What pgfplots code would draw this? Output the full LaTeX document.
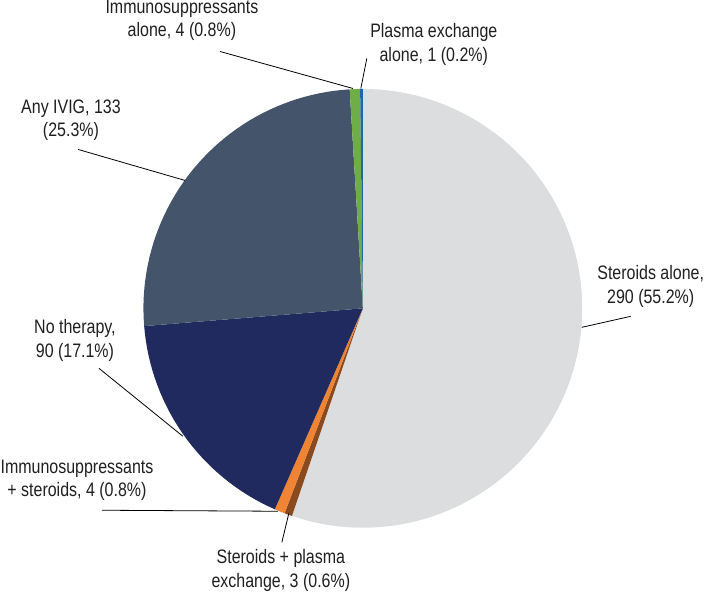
\documentclass[border=0pt]{standalone}
\usepackage{pgfplots}
\pgfplotsset{compat=1.18}
\usepackage{fontspec}
\setmainfont[FakeStretch=0.82]{Liberation Sans}
\definecolor{cSter}{HTML}{DCDDDF}
\definecolor{cSPE}{HTML}{8B4A1E}
\definecolor{cIS}{HTML}{EE8434}
\definecolor{cNo}{HTML}{212A5E}
\definecolor{cIVIG}{HTML}{44546B}
\definecolor{cIA}{HTML}{6FAE46}
\definecolor{cPE}{HTML}{2166A8}
\begin{document}
\begin{tikzpicture}
% counts: Steroids alone, Steroids+PE, Immuno+steroids, No therapy, Any IVIG, Immuno alone, PE alone
\def\vals{290/cSter,3/cSPE,4/cIS,90/cNo,133/cIVIG,4/cIA,1/cPE}
\pgfmathsetmacro{\total}{290+3+4+90+133+4+1}
\begin{axis}[width=704pt,height=591pt,scale only axis,
  xmin=0,xmax=704,ymin=0,ymax=591,y dir=reverse,
  hide axis,clip=false]
\path (axis cs:0,0) rectangle (axis cs:704,591);
\def\cx{363}\def\cy{308}\def\rr{219.5}
\xdef\start{90}
\foreach \v/\cc in \vals {
  \pgfmathsetmacro{\stop}{\start-(\v/\total)*360}
  \pgfmathtruncatemacro{\ns}{max(3,abs(\start-\stop)/2+2)}
  \edef\temp{\noexpand\addplot[fill=\cc,draw=none,domain=\stop:\start,samples=\ns,variable=\noexpand\t]
    ({\cx+\rr*cos(\noexpand\t)},{\cy-\rr*sin(\noexpand\t)}) -- (axis cs:\cx,\cy) -- cycle;}
  \temp
  \xdef\start{\stop}
}
% leader lines
\draw[black,line width=0.8pt] (axis cs:220,51) -- (axis cs:353,88);
\draw[black,line width=0.8pt] (axis cs:367,58) -- (axis cs:361,88);
\draw[black,line width=0.8pt] (axis cs:78,149) -- (axis cs:185,180);
\draw[black,line width=0.8pt] (axis cs:631,316) -- (axis cs:582,327);
\draw[black,line width=0.8pt] (axis cs:99,368) -- (axis cs:183,436);
\draw[black,line width=0.8pt] (axis cs:102,510) -- (axis cs:278,511);
\draw[black,line width=0.8pt] (axis cs:282,542) -- (axis cs:289,513);
% labels
\tikzset{lab/.style={align=center,font=\fontsize{19.5}{23.5}\selectfont,text=black!88,inner sep=0pt}}
\node[lab] at (axis cs:182,20) {Immunosuppressants\\alone, 4 (0.8\%)};
\node[lab] at (axis cs:434,44) {Plasma exchange\\alone, 1 (0.2\%)};
\node[lab] at (axis cs:71,120) {Any IVIG, 133\\(25.3\%)};
\node[lab] at (axis cs:651,286) {Steroids alone,\\290 (55.2\%)};
\node[lab] at (axis cs:75,340) {No therapy,\\90 (17.1\%)};
\node[lab] at (axis cs:77,480) {Immunosuppressants\\+ steroids, 4 (0.8\%)};
\node[lab] at (axis cs:281,570) {Steroids + plasma\\exchange, 3 (0.6\%)};
\end{axis}
\end{tikzpicture}
\end{document}
